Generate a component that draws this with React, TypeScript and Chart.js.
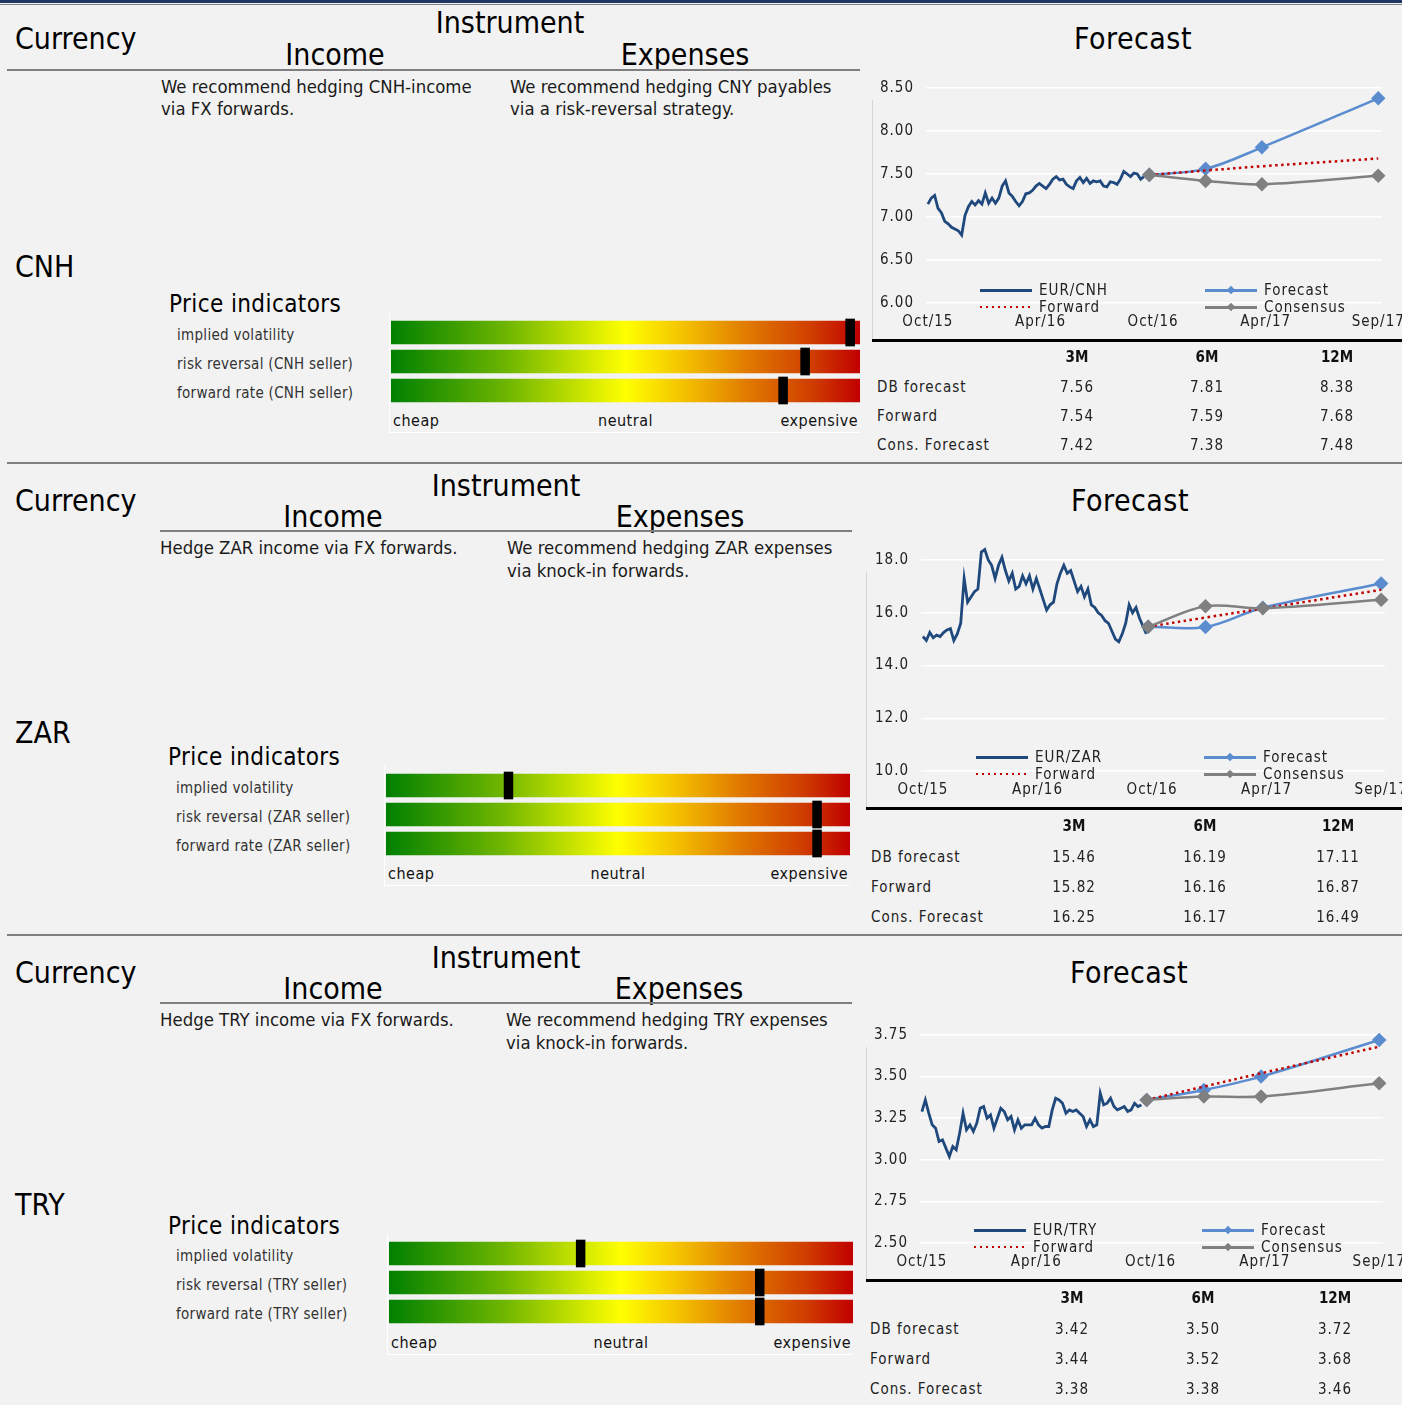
import React, { useEffect, useRef } from "react";
import { Chart, registerables } from "chart.js";

Chart.register(...registerables);

const FONT = "'DejaVu Sans Condensed', 'DejaVu Sans', sans-serif";
const PANEL_BG = "#f2f2f2";
const NAVY = "#1f497d";
const BLUE = "#5a8ccf";
const GREY = "#808080";
const RED = "#c00000";
const RULE = "#7f7f7f";

// Shared time axis, in months after October 2015
const axisMonths = [0, 6, 12, 18, 24];
const axisLabels = ["Oct/15", "Apr/16", "Oct/16", "Apr/17", "Sep/17"];
const historyStep = 0.18; // months between history samples
const projectionMonths = [11.8, 14.8, 17.8, 24]; // spot, 3M, 6M, 12M
const horizons = ["3M", "6M", "12M"];
const tableRows = ["DB forecast", "Forward", "Cons. Forecast"];
const scaleWords = ["cheap", "neutral", "expensive"];
const indicatorRange = [0, 100];

// ---- EUR/CNH ----
const cnhHistory = [
  7.15, 7.22, 7.25, 7.1, 7.05, 6.95, 6.92, 6.88, 6.86, 6.84,
  6.79, 7.02, 7.12, 7.18, 7.14, 7.19, 7.15, 7.28, 7.16, 7.22,
  7.16, 7.22, 7.36, 7.42, 7.28, 7.24, 7.18, 7.13, 7.18, 7.27,
  7.28, 7.31, 7.36, 7.39, 7.36, 7.33, 7.38, 7.44, 7.47, 7.43,
  7.44, 7.38, 7.35, 7.33, 7.42, 7.46, 7.4, 7.45, 7.39, 7.42,
  7.41, 7.42, 7.36, 7.35, 7.41, 7.4, 7.38, 7.44, 7.53, 7.5,
  7.47, 7.51, 7.5, 7.44, 7.47,
];
const cnhSpot = 7.49;
const cnhForecast = [7.56, 7.81, 8.38];
const cnhForward = [7.54, 7.59, 7.68];
const cnhConsensus = [7.42, 7.38, 7.48];
const cnhAxis = [6, 8.5, 0.5];
const cnhIndicators = [97.9, 88.3, 83.6];
const cnhIndicatorLabels = ["implied volatility", "risk reversal (CNH seller)", "forward rate (CNH seller)"];

// ---- EUR/ZAR ----
const zarHistory = [
  15.1, 14.95, 15.25, 15.05, 15.15, 15.1, 15.25, 15.35, 15.4, 14.95,
  15.2, 15.6, 17.3, 16.4, 16.6, 16.8, 16.9, 18.3, 18.4, 18.0,
  17.8, 17.3, 17.8, 18.1, 17.6, 17.2, 17.5, 16.9, 17.0, 17.4,
  17.1, 17.4, 16.9, 17.3, 16.9, 16.5, 16.1, 16.3, 16.4, 17.1,
  17.5, 17.8, 17.5, 17.6, 17.2, 16.8, 17.0, 16.6, 16.9, 16.3,
  16.2, 16.0, 15.9, 15.7, 15.6, 15.3, 15.0, 14.9, 15.2, 15.6,
  16.3, 16.0, 16.2, 15.8, 15.5, 15.2,
];
const zarSpot = 15.47;
const zarForecast = [15.46, 16.19, 17.11];
const zarForward = [15.82, 16.16, 16.87];
const zarConsensus = [16.25, 16.17, 16.49];
const zarAxis = [10, 18, 2];
const zarIndicators = [26.4, 92.9, 92.9];
const zarIndicatorLabels = ["implied volatility", "risk reversal (ZAR seller)", "forward rate (ZAR seller)"];

// ---- EUR/TRY ----
const tryHistory = [
  3.29, 3.36, 3.28, 3.21, 3.19, 3.11, 3.12, 3.07, 3.02, 3.08,
  3.06, 3.16, 3.28, 3.18, 3.21, 3.17, 3.22, 3.31, 3.32, 3.25,
  3.27, 3.19, 3.25, 3.31, 3.29, 3.24, 3.26, 3.18, 3.24, 3.19,
  3.21, 3.21, 3.21, 3.25, 3.21, 3.19, 3.2, 3.2, 3.3, 3.37,
  3.36, 3.34, 3.28, 3.3, 3.29, 3.3, 3.28, 3.26, 3.2, 3.24,
  3.2, 3.21, 3.4, 3.33, 3.34, 3.37, 3.32, 3.3, 3.31, 3.32,
  3.29, 3.3, 3.34, 3.32, 3.33,
];
const trySpot = 3.36;
const tryForecast = [3.42, 3.5, 3.72];
const tryForward = [3.44, 3.52, 3.68];
const tryConsensus = [3.38, 3.38, 3.46];
const tryAxis = [2.5, 3.75, 0.25];
const tryIndicators = [41.3, 79.9, 79.9];
const tryIndicatorLabels = ["implied volatility", "risk reversal (TRY seller)", "forward rate (TRY seller)"];

type CurrencyCfg = {
  code: string;
  income: string[];
  expenses: string[];
  history: number[];
  spot: number;
  forecast: number[];
  forward: number[];
  consensus: number[];
  axis: number[];
  decimals: number;
  indicators: number[];
  indicatorLabels: string[];
};

const currencies: CurrencyCfg[] = [
  {
    code: "CNH",
    income: ["We recommend hedging CNH-income", "via FX forwards."],
    expenses: ["We recommend hedging CNY payables", "via a risk-reversal strategy."],
    history: cnhHistory, spot: cnhSpot, forecast: cnhForecast, forward: cnhForward, consensus: cnhConsensus,
    axis: cnhAxis, decimals: 2, indicators: cnhIndicators, indicatorLabels: cnhIndicatorLabels,
  },
  {
    code: "ZAR",
    income: ["Hedge ZAR income via FX forwards."],
    expenses: ["We recommend hedging ZAR expenses", "via knock-in forwards."],
    history: zarHistory, spot: zarSpot, forecast: zarForecast, forward: zarForward, consensus: zarConsensus,
    axis: zarAxis, decimals: 1, indicators: zarIndicators, indicatorLabels: zarIndicatorLabels,
  },
  {
    code: "TRY",
    income: ["Hedge TRY income via FX forwards."],
    expenses: ["We recommend hedging TRY expenses", "via knock-in forwards."],
    history: tryHistory, spot: trySpot, forecast: tryForecast, forward: tryForward, consensus: tryConsensus,
    axis: tryAxis, decimals: 2, indicators: tryIndicators, indicatorLabels: tryIndicatorLabels,
  },
];

// Page geometry of each block (pixels)
type Layout = {
  currencyY: number; instrumentY: number; subY: number; lineY: number; lineX0: number; lineX1: number;
  instrumentX: number; incomeX: number; expensesX: number; forecastX: number;
  textY: number; textGap: number; incomeTextX: number; expensesTextX: number;
  codeY: number;
  piTitleX: number; piTitleY: number; piLabelX: number; barX0: number; barX1: number; barTop: number; scaleY: number;
  axisLineX: number; gridLeft: number; gridRight: number; gridTop: number; gridBottom: number;
  legendY: number; legendX1: number; legendX2: number;
  tableY: number; tableLabelX: number; cols: number[]; headY: number; rowY: number[];
  sepY: number | null;
};

const layouts: Layout[] = [
  {
    currencyY: 38, instrumentY: 22, subY: 54, lineY: 70, lineX0: 7, lineX1: 860,
    instrumentX: 510, incomeX: 335, expensesX: 685, forecastX: 1133,
    textY: 87, textGap: 22, incomeTextX: 161, expensesTextX: 510,
    codeY: 266,
    piTitleX: 169, piTitleY: 304, piLabelX: 177, barX0: 391, barX1: 860, barTop: 318, scaleY: 420,
    axisLineX: 872, gridLeft: 926, gridRight: 1382, gridTop: 88, gridBottom: 303,
    legendY: 290, legendX1: 980, legendX2: 1205,
    tableY: 340, tableLabelX: 877, cols: [1077, 1207, 1337], headY: 357, rowY: [387, 416, 445],
    sepY: 463,
  },
  {
    currencyY: 500, instrumentY: 485, subY: 516, lineY: 531, lineX0: 160, lineX1: 852,
    instrumentX: 506, incomeX: 333, expensesX: 680, forecastX: 1130,
    textY: 548, textGap: 23, incomeTextX: 160, expensesTextX: 507,
    codeY: 732,
    piTitleX: 168, piTitleY: 757, piLabelX: 176, barX0: 386, barX1: 850, barTop: 771, scaleY: 873,
    axisLineX: 866, gridLeft: 921, gridRight: 1385, gridTop: 560, gridBottom: 771,
    legendY: 757, legendX1: 976, legendX2: 1204,
    tableY: 808, tableLabelX: 871, cols: [1074, 1205, 1338], headY: 826, rowY: [857, 887, 917],
    sepY: 935,
  },
  {
    currencyY: 972, instrumentY: 957, subY: 988, lineY: 1003, lineX0: 160, lineX1: 852,
    instrumentX: 506, incomeX: 333, expensesX: 679, forecastX: 1129,
    textY: 1020, textGap: 23, incomeTextX: 160, expensesTextX: 506,
    codeY: 1204,
    piTitleX: 168, piTitleY: 1226, piLabelX: 176, barX0: 389, barX1: 853, barTop: 1239, scaleY: 1342,
    axisLineX: 866, gridLeft: 920, gridRight: 1383, gridTop: 1035, gridBottom: 1243,
    legendY: 1230, legendX1: 974, legendX2: 1202,
    tableY: 1280, tableLabelX: 870, cols: [1072, 1203, 1335], headY: 1298, rowY: [1329, 1359, 1389],
    sepY: null,
  },
];

const PAGE_W = 1402;
const PAGE_H = 1405;

// Letter spacing for canvas text, to match the spaced table/legend type
const spacedText = {
  id: "spacedText",
  beforeDraw(chart: Chart) {
    (chart.ctx as any).letterSpacing = "1px";
  },
};

type TProps = {
  x: number; y: number; text: string; size: number;
  align?: "left" | "center" | "right"; weight?: number; color?: string; spacing?: number;
};

function T({ x, y, text, size, align = "left", weight = 400, color = "#000", spacing = 0 }: TProps) {
  const h = Math.round(size * 1.3);
  const style: React.CSSProperties = {
    position: "absolute", top: y - h / 2, height: h, lineHeight: `${h}px`, fontSize: size,
    fontFamily: FONT, fontWeight: weight, color, letterSpacing: spacing, whiteSpace: "nowrap",
  };
  if (align === "left") style.left = x;
  else if (align === "center") { style.left = x - 400; style.width = 800; style.textAlign = "center"; }
  else { style.left = x - 800; style.width = 800; style.textAlign = "right"; }
  return <div style={style}>{text}</div>;
}

function ForecastChart({ cfg, lay }: { cfg: CurrencyCfg; lay: Layout }) {
  const ref = useRef<HTMLCanvasElement>(null);
  const canvasTop = lay.gridTop - 18;
  const width = PAGE_W - lay.axisLineX;
  const height = lay.tableY - canvasTop;

  useEffect(() => {
    const history = cfg.history.map((v, i) => ({ x: i * historyStep, y: v }));
    const path = (vals: number[]) => [cfg.spot, ...vals].map((v, i) => ({ x: projectionMonths[i], y: v }));
    const tickFont = { family: FONT, size: 15 };
    const chart = new Chart(ref.current!, {
      type: "line",
      data: {
        datasets: [
          {
            label: `EUR/${cfg.code}`, data: history, borderColor: NAVY, borderWidth: 2.8,
            pointRadius: 0, order: 4, clip: false,
          },
          {
            label: "Forecast", data: path(cfg.forecast), borderColor: BLUE, backgroundColor: BLUE,
            borderWidth: 2.5, pointStyle: "rectRot", pointRadius: 5.5, tension: 0.35, order: 3, clip: false,
          },
          {
            label: "Forward", data: path(cfg.forward), borderColor: RED, borderWidth: 2.5,
            borderDash: [2.5, 3.5], pointRadius: 0, tension: 0.35, order: 2, clip: false,
          },
          {
            label: "Consensus", data: path(cfg.consensus), borderColor: GREY, backgroundColor: GREY,
            borderWidth: 2.5, pointStyle: "rectRot", pointRadius: 5.5, tension: 0.35, order: 1, clip: false,
          },
        ],
      },
      options: {
        animation: false,
        responsive: false,
        events: [],
        layout: { padding: { top: 18, right: PAGE_W - lay.gridRight, left: 0, bottom: 0 } },
        plugins: { legend: { display: false }, tooltip: { enabled: false } },
        scales: {
          x: {
            type: "linear", min: -0.1, max: 24.2,
            grid: { display: false, drawTicks: false }, border: { display: false },
            afterBuildTicks: (axis: any) => { axis.ticks = axisMonths.map((value) => ({ value })); },
            ticks: {
              padding: 10, color: "#222", font: tickFont, maxRotation: 0, autoSkip: false,
              callback: (v: any) => axisLabels[axisMonths.indexOf(Number(v))] ?? "",
            },
            afterFit: (axis: any) => {
              axis.height = lay.tableY - lay.gridBottom;
              axis.paddingLeft = 0;
              axis.paddingRight = 0;
            },
          },
          y: {
            min: cfg.axis[0], max: cfg.axis[1],
            ticks: {
              stepSize: cfg.axis[2], padding: 12, color: "#222", font: tickFont,
              callback: (v: any) => Number(v).toFixed(cfg.decimals),
            },
            grid: { color: "#ffffff", lineWidth: 1.5, drawTicks: false },
            border: { display: false },
            afterFit: (axis: any) => {
              axis.width = lay.gridLeft - lay.axisLineX;
              axis.paddingTop = 0;
              axis.paddingBottom = 0;
            },
          },
        },
      },
      plugins: [spacedText],
    });
    return () => chart.destroy();
  }, [cfg, lay]);

  return (
    <canvas
      ref={ref}
      width={width}
      height={height}
      style={{ position: "absolute", left: lay.axisLineX, top: canvasTop, width, height }}
    />
  );
}

function barGradient(chart: Chart) {
  const area = chart.chartArea;
  if (!area) return "#999";
  const g = chart.ctx.createLinearGradient(area.left, 0, area.right, 0);
  g.addColorStop(0, "#008000");
  g.addColorStop(0.25, "#70b600");
  g.addColorStop(0.5, "#ffff00");
  g.addColorStop(0.62, "#f4c400");
  g.addColorStop(0.76, "#e07a00");
  g.addColorStop(0.9, "#cf3c00");
  g.addColorStop(1, "#c00000");
  return g;
}

function IndicatorBars({ cfg, lay }: { cfg: CurrencyCfg; lay: Layout }) {
  const ref = useRef<HTMLCanvasElement>(null);
  const width = lay.barX1 - lay.barX0;
  const height = 87;

  useEffect(() => {
    const chart = new Chart(ref.current!, {
      type: "bar",
      data: {
        labels: cfg.indicatorLabels,
        datasets: [
          {
            data: cfg.indicators.map(() => indicatorRange as [number, number]),
            backgroundColor: (c: any) => barGradient(c.chart),
            barThickness: 23, grouped: false, order: 2,
          },
          {
            data: cfg.indicators.map((v) => [v - 0.95, v + 0.95] as [number, number]),
            backgroundColor: "#000000",
            barThickness: 27, grouped: false, order: 1,
          },
        ],
      },
      options: {
        indexAxis: "y",
        animation: false,
        responsive: false,
        events: [],
        layout: { padding: 0 },
        plugins: { legend: { display: false }, tooltip: { enabled: false } },
        scales: {
          x: { type: "linear", min: 0, max: 100, display: false },
          y: { type: "category", display: false },
        },
      },
    });
    return () => chart.destroy();
  }, [cfg, lay]);

  return (
    <canvas
      ref={ref}
      width={width}
      height={height}
      style={{ position: "absolute", left: lay.barX0, top: lay.barTop, width, height }}
    />
  );
}

function Legend({ cfg, lay }: { cfg: CurrencyCfg; lay: Layout }) {
  const sampleW = 52;
  const line = (x: number, y: number, color: string, dotted = false, marker = false) => (
    <div key={`${x}-${y}`} style={{ position: "absolute", left: x, top: y - 1.5, width: sampleW, height: 3 }}>
      <div
        style={{
          position: "absolute", left: 0, top: 0, width: sampleW, height: dotted ? 2.5 : 3,
          background: dotted ? `repeating-linear-gradient(90deg, ${color} 0 2.5px, transparent 2.5px 6px)` : color,
        }}
      />
      {marker && (
        <div
          style={{
            position: "absolute", left: sampleW / 2 - 3, top: -1.5, width: 6, height: 6,
            background: color, transform: "rotate(45deg)",
          }}
        />
      )}
    </div>
  );
  const y1 = lay.legendY;
  const y2 = lay.legendY + 17;
  return (
    <>
      {line(lay.legendX1, y1, NAVY)}
      {line(lay.legendX1, y2, RED, true)}
      {line(lay.legendX2, y1, BLUE, false, true)}
      {line(lay.legendX2, y2, GREY, false, true)}
      <T x={lay.legendX1 + 59} y={y1} text={`EUR/${cfg.code}`} size={15} color="#222" spacing={1} />
      <T x={lay.legendX1 + 59} y={y2} text="Forward" size={15} color="#222" spacing={1} />
      <T x={lay.legendX2 + 59} y={y1} text="Forecast" size={15} color="#222" spacing={1} />
      <T x={lay.legendX2 + 59} y={y2} text="Consensus" size={15} color="#222" spacing={1} />
    </>
  );
}

function Panel({ cfg, lay }: { cfg: CurrencyCfg; lay: Layout }) {
  const tableData = [cfg.forecast, cfg.forward, cfg.consensus];
  return (
    <>
      {/* headers */}
      <T x={15} y={lay.currencyY} text="Currency" size={30} />
      <T x={lay.instrumentX} y={lay.instrumentY} text="Instrument" size={30} align="center" />
      <T x={lay.incomeX} y={lay.subY} text="Income" size={30} align="center" />
      <T x={lay.expensesX} y={lay.subY} text="Expenses" size={30} align="center" />
      <T x={lay.forecastX} y={lay.currencyY} text="Forecast" size={30} align="center" spacing={0.5} />
      <div style={{ position: "absolute", left: lay.lineX0, top: lay.lineY - 0.75, width: lay.lineX1 - lay.lineX0, height: 1.5, background: RULE }} />

      {/* recommendations */}
      {cfg.income.map((s, i) => (
        <T key={`i${i}`} x={lay.incomeTextX} y={lay.textY + i * lay.textGap} text={s} size={18.4} color="#1a1a1a" />
      ))}
      {cfg.expenses.map((s, i) => (
        <T key={`e${i}`} x={lay.expensesTextX} y={lay.textY + i * lay.textGap} text={s} size={18.4} color="#1a1a1a" />
      ))}

      <T x={15} y={lay.codeY} text={cfg.code} size={30} />

      {/* price indicators */}
      <T x={lay.piTitleX} y={lay.piTitleY} text="Price indicators" size={24} spacing={0.4} />
      <div
        style={{
          position: "absolute", left: lay.barX0 - 2, top: lay.barTop - 5, width: lay.barX1 - lay.barX0 + 2,
          height: lay.scaleY + 13 - (lay.barTop - 5), borderLeft: "1.5px solid #ffffff", borderBottom: "1.5px solid #ffffff",
          boxSizing: "border-box",
        }}
      />
      {cfg.indicatorLabels.map((s, i) => (
        <T key={`l${i}`} x={lay.piLabelX} y={lay.barTop + 17 + i * 29} text={s} size={15} color="#333" spacing={0.3} />
      ))}
      <IndicatorBars cfg={cfg} lay={lay} />
      <T x={lay.barX0 + 2} y={lay.scaleY} text={scaleWords[0]} size={16} color="#111" spacing={0.5} />
      <T x={(lay.barX0 + lay.barX1) / 2} y={lay.scaleY} text={scaleWords[1]} size={16} color="#111" spacing={0.5} align="center" />
      <T x={lay.barX1 - 2} y={lay.scaleY} text={scaleWords[2]} size={16} color="#111" spacing={0.5} align="right" />

      {/* forecast chart */}
      <div style={{ position: "absolute", left: lay.axisLineX, top: lay.gridTop + 12, width: 1, height: lay.tableY - lay.gridTop - 12, background: "#d6d6d6" }} />
      <ForecastChart cfg={cfg} lay={lay} />
      <Legend cfg={cfg} lay={lay} />

      {/* forecast table */}
      <div style={{ position: "absolute", left: lay.axisLineX, top: lay.tableY - 1.5, width: PAGE_W - lay.axisLineX, height: 3, background: "#000" }} />
      {horizons.map((h, c) => (
        <T key={`h${c}`} x={lay.cols[c]} y={lay.headY} text={h} size={15} weight={700} align="center" color="#111" />
      ))}
      {tableRows.map((r, ri) => (
        <React.Fragment key={`r${ri}`}>
          <T x={lay.tableLabelX} y={lay.rowY[ri]} text={r} size={15} spacing={1} color="#222" />
          {tableData[ri].map((v, c) => (
            <T key={`v${c}`} x={lay.cols[c]} y={lay.rowY[ri]} text={v.toFixed(2)} size={15} spacing={1} color="#222" align="center" />
          ))}
        </React.Fragment>
      ))}

      {lay.sepY !== null && (
        <div style={{ position: "absolute", left: 7, top: lay.sepY - 1.25, width: PAGE_W - 7, height: 2.5, background: RULE }} />
      )}
    </>
  );
}

export default function App() {
  return (
    <div
      style={{
        position: "absolute", left: 0, top: 0, width: PAGE_W, height: PAGE_H, overflow: "hidden",
        background: PANEL_BG, fontFamily: FONT, fontStretch: "condensed",
      }}
    >
      <div style={{ position: "absolute", left: 0, top: 0, width: PAGE_W, height: 2.5, background: "#1f3864" }} />
      <div style={{ position: "absolute", left: 0, top: 3.5, width: PAGE_W, height: 1.5, background: RULE }} />
      {currencies.map((cfg, i) => (
        <Panel key={cfg.code} cfg={cfg} lay={layouts[i]} />
      ))}
    </div>
  );
}
